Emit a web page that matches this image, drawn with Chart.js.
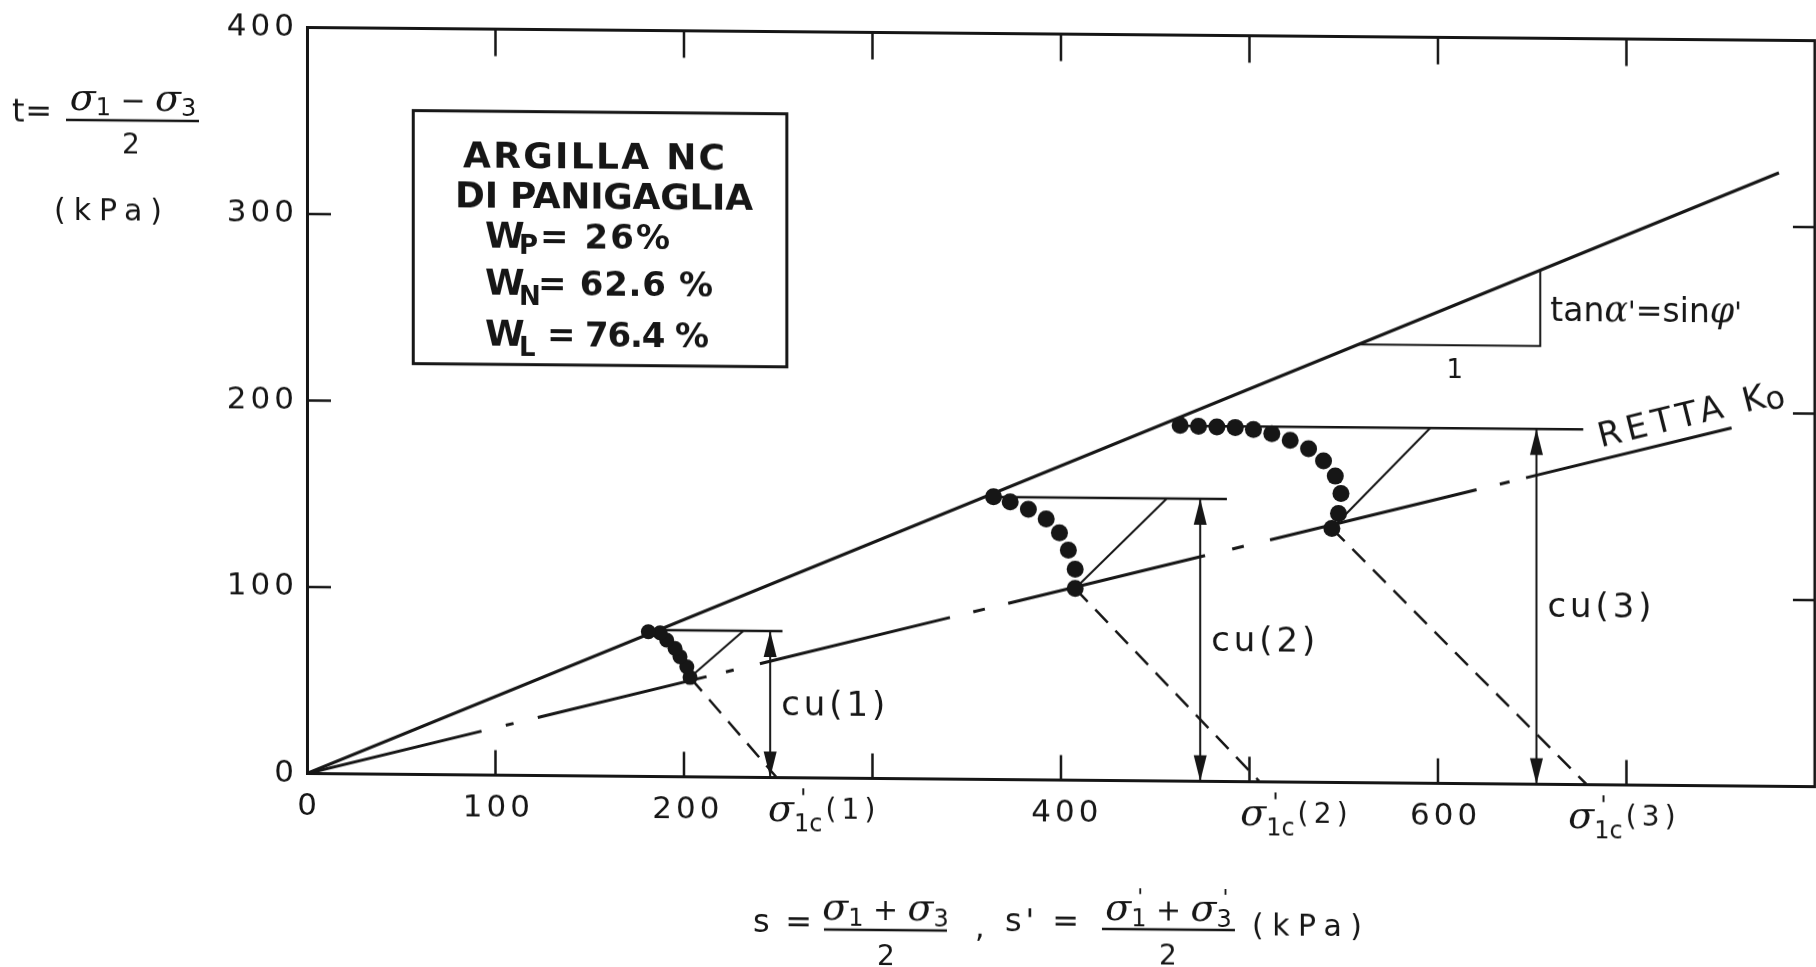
<!DOCTYPE html>
<html>
<head>
<meta charset="utf-8">
<title>Argilla NC di Panigaglia - percorsi di carico</title>
<script src="https://cdn.jsdelivr.net/npm/chart.js@4.4.1/dist/chart.umd.min.js"></script>
<style>
  html, body { margin: 0; padding: 0; background: #fff; overflow: hidden; }
  /* the scanned figure is slightly sheared: right side sits a bit lower */
  #chart { display: block; transform: skewY(0.5deg); transform-origin: 307px 773px; }
</style>
</head>
<body>
<canvas id="chart" width="1816" height="967"></canvas>
<script>
// axes (s' and t in kPa)
const sMax = 796;
const tMax = 400;
const sTickLabels = [0, 100, 200, 400, 600];

// failure envelope and K0 line
const envelopeS = [0, 777];
const envelopeT = [0, 329];
const k0S = [0, 752];
const k0T = [0, 192];

// effective stress paths, first reading = consolidation point on the K0 line
const path1S = [202.2, 200.5, 196.9, 194.3, 189.9, 186.4, 180.2];
const path1T = [53.3, 59.0, 64.4, 68.8, 73.2, 77.1, 77.6];
const path2S = [405.5, 405.5, 401.9, 397.2, 390.2, 380.8, 371.2, 362.4];
const path2T = [102.8, 113.2, 123.3, 132.6, 140.0, 145.0, 148.9, 151.6];
const path3S = [541.0, 544.5, 545.8, 542.8, 536.6, 528.7, 519.0, 509.3, 499.6, 490.0, 480.3, 470.6, 460.9];
const path3T = [136.2, 144.3, 155.0, 164.3, 172.4, 178.9, 183.3, 186.8, 188.9, 189.9, 190.1, 190.4, 190.8];

// per test: cu level, cu arrow, end of cu line, top of total stress path, sigma'1c
const cuT = [78.5, 151.5, 190.5];
const cuArrowS = [244.5, 471.5, 649];
const cuLineEndS = [251, 485.6, 673.7];
const totalPathTopS = [230.4, 453.9, 592.9];
const sigma1cS = [248, 503, 675.6];

// slope triangle under the envelope
const slopeS = [555, 651, 651];
const slopeT = [235, 235, 275.6];

const INK = '#161616';
const SANS = '"DejaVu Sans", "Liberation Sans", sans-serif';
const SERIF = '"DejaVu Serif", "Liberation Serif", serif';
const font = (size, style) => (style ? style + ' ' : '') + size + 'px ' + SANS;
const SIG = 'italic 38px ' + SERIF;
// hand-drawn dash-dot of the K0 line (pixels along the line)
const K0_DASH = [180, 25, 8, 25, 174, 20, 8, 27, 196, 24, 12, 24, 203, 28, 12, 27, 213, 24, 10, 17, 320];

const paths = [
  { s: path1S, t: path1T },
  { s: path2S, t: path2T },
  { s: path3S, t: path3T }
];
const dotRadius = [7.5, 8.5, 8.5];

function seg(sArr, tArr, width, dash, extra) {
  return Object.assign({
    data: sArr.map((s, i) => ({ x: s, y: tArr[i] })),
    showLine: true,
    borderColor: INK,
    borderWidth: width,
    borderDash: dash || [],
    pointRadius: 0,
    pointHoverRadius: 0,
    tension: 0
  }, extra || {});
}

const datasets = [];
paths.forEach((p, i) => datasets.push({
  data: p.s.map((s, k) => ({ x: s, y: p.t[k] })),
  showLine: false,
  pointRadius: dotRadius[i],
  pointHoverRadius: dotRadius[i],
  pointBackgroundColor: INK,
  pointBorderWidth: 0
}));
datasets.push(seg(envelopeS, envelopeT, 3));
datasets.push(seg(k0S, k0T, 3, K0_DASH));
paths.forEach((p, i) => {
  const last = p.s.length - 1;
  datasets.push(seg([p.s[last], cuLineEndS[i]], [cuT[i], cuT[i]], 2.5));
  datasets.push(seg([p.s[0], totalPathTopS[i]], [p.t[0], cuT[i]], 2));
  datasets.push(seg([p.s[0], sigma1cS[i]], [p.t[0], 0], 2.5, [18, 11]));
  datasets.push(seg([cuArrowS[i], cuArrowS[i]], [0, cuT[i]], 2, null, { arrow: true }));
});
datasets.push(seg(slopeS, slopeT, 2));

// text helpers
function fitText(ctx, str, x, y, f, width) {
  ctx.font = f;
  ctx.letterSpacing = '0px';
  const n = [...str].length;
  const ls = n > 1 ? (width - ctx.measureText(str).width) / (n - 1) : 0;
  ctx.letterSpacing = ls.toFixed(2) + 'px';
  ctx.fillText(str, x, y);
  ctx.letterSpacing = '0px';
}

// pieces: [text, font, dy, keepX]
function pieces(ctx, list, x, y, align) {
  let w = 0;
  list.forEach(p => { ctx.font = p[1]; if (!p[3]) w += ctx.measureText(p[0]).width; });
  let cx = align === 'center' ? x - w / 2 : x;
  list.forEach(p => {
    ctx.font = p[1];
    ctx.fillText(p[0], cx + (p[3] ? 6 : 0), y + (p[2] || 0));
    if (!p[3]) cx += ctx.measureText(p[0]).width;
  });
  return w;
}

function head(ctx, x, y, dir) {
  ctx.beginPath();
  ctx.moveTo(x, y);
  ctx.lineTo(x - 6.5, y - dir * 26);
  ctx.lineTo(x + 6.5, y - dir * 26);
  ctx.closePath();
  ctx.fill();
}

const figure = {
  id: 'figure',
  beforeDraw(chart) { chart.ctx.letterSpacing = '4px'; },
  beforeDatasetsDraw(chart) { chart.ctx.letterSpacing = '0px'; },
  afterDraw(chart) {
    const ctx = chart.ctx;
    const xs = chart.scales.x, ys = chart.scales.y;
    const P = (s, t) => ({ x: xs.getPixelForValue(s), y: ys.getPixelForValue(t) });
    const { left, right, top, bottom } = chart.chartArea;
    ctx.save();
    ctx.letterSpacing = '0px';
    ctx.fillStyle = INK;
    ctx.strokeStyle = INK;
    ctx.textAlign = 'left';
    ctx.textBaseline = 'alphabetic';

    // frame top/right and inward ticks
    ctx.lineWidth = 3;
    ctx.beginPath();
    ctx.moveTo(left, top); ctx.lineTo(right, top); ctx.lineTo(right, bottom);
    ctx.stroke();
    ctx.lineWidth = 2.5;
    ctx.beginPath();
    xs.ticks.forEach(tk => {
      if (tk.value <= 0 || tk.value >= sMax) return;
      const px = xs.getPixelForValue(tk.value);
      ctx.moveTo(px, bottom); ctx.lineTo(px, bottom - 25);
      ctx.moveTo(px, top); ctx.lineTo(px, top + 27);
    });
    ys.ticks.forEach(tk => {
      if (tk.value <= 0 || tk.value >= tMax) return;
      const py = ys.getPixelForValue(tk.value);
      ctx.moveTo(left, py); ctx.lineTo(left + 24, py);
      ctx.moveTo(right, py); ctx.lineTo(right - 22, py);
    });
    ctx.stroke();

    // s tick labels (only some values are printed)
    ctx.font = font(31);
    ctx.textAlign = 'center';
    ctx.textBaseline = 'middle';
    ctx.letterSpacing = '4px';
    sTickLabels.forEach(v => ctx.fillText(String(v), xs.getPixelForValue(v) + 2, bottom + 33));
    ctx.letterSpacing = '0px';
    ctx.textAlign = 'left';
    ctx.textBaseline = 'alphabetic';

    // arrowheads on the cu arrows
    chart.data.datasets.forEach((ds, i) => {
      if (!ds.arrow) return;
      const [a, b] = chart.getDatasetMeta(i).data;
      head(ctx, a.x, a.y, 1);
      head(ctx, b.x, b.y, -1);
    });

    // soil box
    const b0 = P(56.1, 356), b1 = P(253.3, 220.3);
    ctx.lineWidth = 3;
    ctx.strokeRect(b0.x, b0.y, b1.x - b0.x, b1.y - b0.y);
    let o = P(151.5, 325.8);
    fitText(ctx, 'ARGILLA NC', o.x - 131, o.y, font(36, 'bold'), 262);
    o = P(156.8, 304.4);
    fitText(ctx, 'DI PANIGAGLIA', o.x - 149, o.y, font(36, 'bold'), 298);
    [['P', '= 26%', 282.9, 6, 55, 130],
     ['N', '= 62.6 %', 257.9, 10, 53, 175],
     ['L', '= 76.4 %', 230.2, 10, 62, 162]].forEach(r => {
      const q = P(94, r[2]);
      ctx.font = font(36, 'bold');
      ctx.fillText('W', q.x, q.y);
      ctx.font = font(26, 'bold');
      ctx.fillText(r[0], q.x + 34, q.y + r[3]);
      fitText(ctx, r[1], q.x + r[4], q.y, font(34, 'bold'), r[5]);
    });

    // cu labels
    const cuBase = [33.6, 69.9, 89.7];
    cuArrowS.forEach((s, i) => {
      const q = P(s, cuBase[i]);
      fitText(ctx, 'cu(' + (i + 1) + ')', q.x + 11, q.y, font(34), 104);
    });

    // sigma'1c labels under the s axis
    const sigLabelS = [243.4, 492.6, 665.8];
    sigLabelS.forEach((s, i) => {
      const q = P(s, 0);
      const y = q.y + 43;
      const w = pieces(ctx, [['σ', SIG], ["'", font(24), -15, true], ['1c', font(24), 10]], q.x, y);
      fitText(ctx, '(' + (i + 1) + ')', q.x + w + 3, y - 3, font(28), 50);
    });

    // RETTA K0 along the line
    const k0a = P(k0S[0], k0T[0]), k0b = P(k0S[1], k0T[1]);
    o = P(683, 181);
    ctx.save();
    ctx.translate(o.x, o.y);
    ctx.rotate(Math.atan2(k0b.y - k0a.y, k0b.x - k0a.x));
    fitText(ctx, 'RETTA', 0, 0, font(34), 128);
    pieces(ctx, [['K', font(34)], ['o', font(32), 4]], 149, 0);
    ctx.restore();

    // slope of the envelope
    o = P(656.3, 248.8);
    pieces(ctx, [['tan', font(33)], ['α', 'italic 35px ' + SERIF], ["'", font(28)], ['=', font(32)],
                 ['sin', font(33)], ['φ', 'italic 35px ' + SERIF], ["'", font(28)]], o.x, o.y);
    o = P(605.9, 217.6);
    ctx.font = font(26);
    ctx.textAlign = 'center';
    ctx.fillText('1', o.x, o.y);
    ctx.textAlign = 'left';

    // t axis title
    fitText(ctx, 't =', 12, 124, font(32), 40);
    pieces(ctx, [['σ', SIG], ['1', font(24), 5], [' − ', font(30)], ['σ', SIG], ['3', font(24), 5]], 133, 112, 'center');
    ctx.lineWidth = 2.5;
    ctx.beginPath(); ctx.moveTo(66, 122); ctx.lineTo(199, 122); ctx.stroke();
    ctx.font = font(28); ctx.textAlign = 'center';
    ctx.fillText('2', 131, 155);
    ctx.textAlign = 'left';
    fitText(ctx, '(kPa)', 54, 222, font(30), 108);

    // s axis title
    fitText(ctx, 's =', 753, 928, font(32), 59);
    pieces(ctx, [['σ', SIG], ['1', font(24), 6], [' + ', font(30)], ['σ', SIG], ['3', font(24), 6]], 885.5, 915, 'center');
    ctx.beginPath(); ctx.moveTo(824, 925); ctx.lineTo(947, 925); ctx.stroke();
    ctx.font = font(28); ctx.textAlign = 'center';
    ctx.fillText('2', 886, 960);
    ctx.textAlign = 'left';
    ctx.font = font(30);
    ctx.fillText(',', 975, 931);
    fitText(ctx, "s' =", 1005, 925, font(32), 74);
    pieces(ctx, [['σ', SIG], ["'", font(22), -16, true], ['1', font(24), 6], [' + ', font(30)],
                 ['σ', SIG], ["'", font(22), -16, true], ['3', font(24), 6]], 1168.5, 913, 'center');
    ctx.beginPath(); ctx.moveTo(1102, 922); ctx.lineTo(1235, 922); ctx.stroke();
    ctx.font = font(28); ctx.textAlign = 'center';
    ctx.fillText('2', 1168, 957);
    ctx.textAlign = 'left';
    fitText(ctx, '(kPa)', 1252, 927, font(30), 110);

    ctx.restore();
  }
};

new Chart(document.getElementById('chart'), {
  type: 'scatter',
  data: { datasets },
  options: {
    responsive: false,
    animation: false,
    devicePixelRatio: 1,
    events: [],
    layout: { autoPadding: false, padding: { top: 27, right: 1, left: 0, bottom: 0 } },
    plugins: { legend: { display: false }, tooltip: { enabled: false } },
    scales: {
      x: {
        type: 'linear', min: 0, max: sMax,
        afterFit: scale => { scale.height = 193.5; },
        grid: { display: false, drawTicks: false },
        border: { display: true, color: INK, width: 3 },
        ticks: { display: false, stepSize: 100, includeBounds: false }
      },
      y: {
        type: 'linear', min: 0, max: tMax,
        afterFit: scale => { scale.width = 307; },
        grid: { display: false, drawTicks: false },
        border: { display: true, color: INK, width: 3 },
        ticks: { stepSize: 100, includeBounds: false, padding: 9, color: INK, font: { family: SANS, size: 31 } }
      }
    }
  },
  plugins: [figure]
});
</script>
</body>
</html>
